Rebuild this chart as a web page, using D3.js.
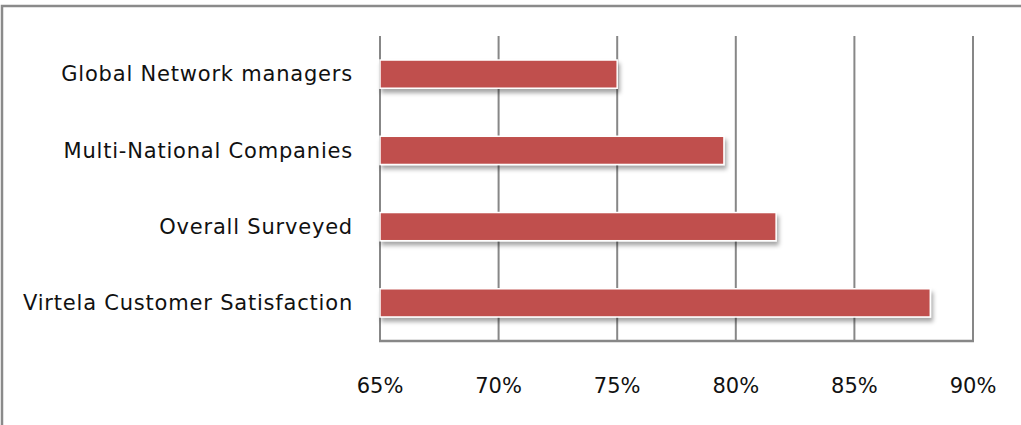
<!DOCTYPE html>
<html>
<head>
<meta charset="utf-8">
<script src="https://cdn.jsdelivr.net/npm/d3@7/dist/d3.min.js"></script>
<style>
  html, body { margin: 0; padding: 0; background: #fff; }
  svg { display: block; }
  text { font-family: "DejaVu Sans", "Noto Sans", sans-serif; fill: #111; }
</style>
</head>
<body>
<svg id="chart" width="1021" height="425"></svg>
<script>
const categories = [
  "Global Network managers",
  "Multi-National Companies",
  "Overall Surveyed",
  "Virtela Customer Satisfaction"
];
const values = [0.75, 0.795, 0.817, 0.882];
const tickValues = [0.65, 0.70, 0.75, 0.80, 0.85, 0.90];
const tickLabels = ["65%", "70%", "75%", "80%", "85%", "90%"];

const W = 1021, H = 425;
const margin = { left: 380, right: 48, top: 36, bottom: 84 };
const svg = d3.select("#chart");

// outer chart border (extends beyond the visible frame on right/bottom)
svg.append("rect")
  .attr("x", 2).attr("y", 6)
  .attr("width", W + 10).attr("height", H + 10)
  .attr("fill", "none").attr("stroke", "#8a8a8a").attr("stroke-width", 2.5);

const x = d3.scaleLinear().domain([0.65, 0.90]).range([margin.left, W - margin.right]);
const y = d3.scaleBand().domain(categories).range([margin.top, H - margin.bottom]).paddingInner(0.63).paddingOuter(0.315);

const defs = svg.append("defs");
const f = defs.append("filter").attr("id", "shadow").attr("x", "-5%").attr("y", "-30%").attr("width", "115%").attr("height", "190%");
f.append("feDropShadow").attr("dx", 2).attr("dy", 4).attr("stdDeviation", 2.2).attr("flood-color", "#000").attr("flood-opacity", 0.35);

// gridlines
svg.append("g").selectAll("line").data(tickValues).join("line")
  .attr("x1", d => x(d)).attr("x2", d => x(d))
  .attr("y1", margin.top).attr("y2", H - margin.bottom)
  .attr("stroke", "#878787").attr("stroke-width", 2);

// bottom axis line
svg.append("line")
  .attr("x1", x(0.65) - 1).attr("x2", x(0.90) + 1)
  .attr("y1", H - margin.bottom).attr("y2", H - margin.bottom)
  .attr("stroke", "#878787").attr("stroke-width", 2.5);

// bars
svg.append("g").selectAll("rect").data(values).join("rect")
  .attr("x", x(0.65))
  .attr("y", (d, i) => y(categories[i]))
  .attr("width", d => x(d) - x(0.65))
  .attr("height", y.bandwidth())
  .attr("fill", "#C0504D")
  .attr("stroke", "#ffffff").attr("stroke-width", 1.5)
  .attr("filter", "url(#shadow)");

// category labels
svg.append("g").selectAll("text").data(categories).join("text")
  .attr("x", 353)
  .attr("y", d => y(d) + y.bandwidth() / 2)
  .attr("dy", "0.35em")
  .attr("text-anchor", "end")
  .attr("font-size", 21)
  .attr("letter-spacing", 0.8)
  .text(d => d);

// tick labels
svg.append("g").selectAll("text").data(tickValues).join("text")
  .attr("x", d => x(d))
  .attr("y", 393)
  .attr("text-anchor", "middle")
  .attr("font-size", 21)
  .text((d, i) => tickLabels[i]);
</script>
</body>
</html>
